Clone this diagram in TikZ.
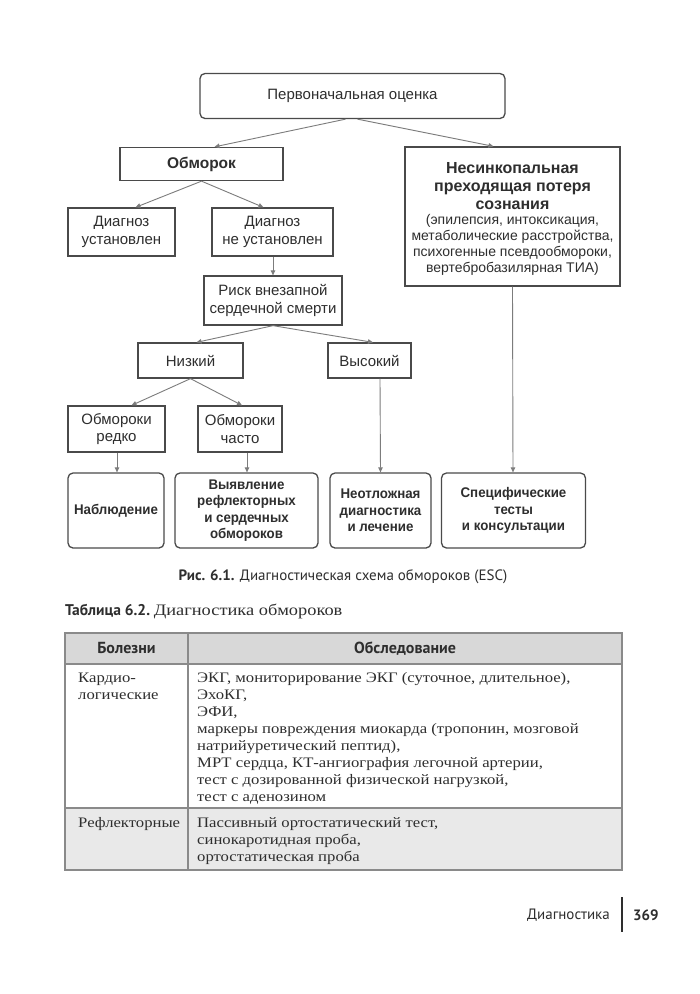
\documentclass[tikz,border=0pt]{standalone}
\usepackage{fontspec}
\setmainfont{Liberation Sans}
\newfontfamily\ptsans{PT Sans}
\newfontfamily\serifru[FakeStretch=1.15]{Liberation Serif}
\newfontfamily\condsans[FakeStretch=0.95]{Liberation Sans}
\usetikzlibrary{arrows.meta,calc}
\definecolor{boxc}{HTML}{4A4A4A}
\definecolor{linec}{HTML}{7C7C7C}
\definecolor{txtc}{HTML}{2E2E2E}
\definecolor{tblc}{HTML}{8A8A8A}
\definecolor{headc}{HTML}{D8D8D8}
\definecolor{rowc}{HTML}{E9E9E9}
\begin{document}
\begin{tikzpicture}[x=1pt,y=-1pt,
  box/.style={draw=boxc, line width=1.3pt, inner sep=0pt, align=center, text=txtc, font=\fontsize{15}{17.5}\selectfont},
  rbox/.style={box, rounded corners=5pt},
  bbox/.style={rbox, font=\condsans\bfseries\fontsize{14}{16.5}\selectfont},
  plain/.style={inner sep=0pt, align=center, text=txtc},
  arr/.style={draw=linec, line width=0.9pt, -{Triangle[length=5pt,width=4.5pt]}},
  tline/.style={draw=tblc, line width=1.1pt},
  tser/.style={inner sep=0pt, anchor=base west, text=txtc, font=\serifru\fontsize{14.5}{17}\selectfont},
]
\useasboundingbox[fill=white] (0,0) rectangle (700,994);

% ---------- diagram ----------
\node[rbox, minimum width=305pt, minimum height=45pt] (top) at (352.5,96) {Первоначальная оценка};
\node[box, minimum width=163pt, minimum height=33pt, font=\bfseries\fontsize{15.5}{18}\selectfont] (obm) at (201.5,164) {Обморок};
\node[box, minimum width=215pt, minimum height=139pt] (ns) at (512.5,216.5) {};
\node[plain, font=\bfseries\fontsize{16}{18}\selectfont] (nsA) at (512.5,186.5) {Несинкопальная\\преходящая потеря\\сознания};
\node[plain, font=\fontsize{14}{16}\selectfont] (nsB) at (512.5,245) {(эпилепсия, интоксикация,\\метаболические расстройства,\\психогенные псевдообмороки,\\вертебробазилярная ТИА)};
\node[box, minimum width=107pt, minimum height=48pt] (dy) at (121.5,232) {Диагноз\\установлен};
\node[box, minimum width=121pt, minimum height=48pt] (dn) at (272.5,232) {Диагноз\\не установлен};
\node[box, minimum width=138pt, minimum height=49pt] (risk) at (273,300.5) {Риск внезапной\\сердечной смерти};
\node[box, minimum width=105pt, minimum height=35pt] (low) at (190.5,360.5) {Низкий};
\node[box, minimum width=83pt, minimum height=35pt] (high) at (369.5,360.5) {Высокий};
\node[box, minimum width=97pt, minimum height=46pt] (rare) at (116.5,429) {Обмороки\\редко};
\node[box, minimum width=84pt, minimum height=46pt] (freq) at (240,429) {Обмороки\\часто};
\node[bbox, minimum width=96pt, minimum height=75pt] (obs) at (116,510.5) {Наблюдение};
\node[bbox, minimum width=143pt, minimum height=75pt] (rev) at (246.5,510.5) {Выявление\\рефлекторных\\и сердечных\\обмороков};
\node[bbox, minimum width=101pt, minimum height=75pt] (urg) at (380.5,510.5) {Неотложная\\диагностика\\и лечение};
\node[bbox, minimum width=144pt, minimum height=75pt] (spec) at (513.5,510.5) {Специфические\\тесты\\и консультации};

\draw[arr] ([xshift=-7pt]top.south) -- ([xshift=13pt]obm.north);
\draw[arr] ([xshift=5pt]top.south) -- ([xshift=-19pt]ns.north);
\draw[arr] (obm.south) -- ([xshift=14pt]dy.north);
\draw[arr] (obm.south) -- ([xshift=-9pt]dn.north);
\draw[arr] ([xshift=0.5pt]dn.south) -- (risk.north);
\draw[arr] (risk.south) -- ([xshift=6pt]low.north);
\draw[arr] (risk.south) -- ([xshift=3.5pt]high.north);
\draw[arr] (low.south) -- ([xshift=15pt]rare.north);
\draw[arr] (low.south) -- ([xshift=2pt]freq.north);
\draw[arr] ([xshift=0.5pt]rare.south) -- ([xshift=1pt]obs.north);
\draw[arr] ([xshift=7pt]freq.south) -- ([xshift=0.5pt]rev.north);
\draw[arr] ([xshift=10.5pt]high.south) -- (urg.north);
\draw[arr] (ns.south) -- ([xshift=-0.5pt]spec.north);

% ---------- caption ----------
\node[inner sep=0pt, text=txtc, font=\ptsans\fontsize{15}{17}\selectfont] (cap) at (343,577)
  {\textbf{Рис. 6.1.} Диагностическая схема обмороков (ESC)};

% ---------- table ----------
\node[inner sep=0pt, anchor=base west, text=txtc] (ttl) at (65,615)
  {{\ptsans\bfseries\fontsize{15.5}{17}\selectfont Таблица 6.2.} {\serifru\fontsize{16}{17}\selectfont Диагностика обмороков}};

\fill[headc] (65,633) rectangle (622,664);
\fill[rowc] (65,808) rectangle (622,870);
\draw[tline] (65,633) rectangle (622,870);
\draw[tline] (65,664) -- (622,664);
\draw[tline] (65,808) -- (622,808);
\draw[tline] (188,633) -- (188,870);

\node[inner sep=0pt, text=txtc, font=\ptsans\bfseries\fontsize{16}{18}\selectfont] (h1) at (126.5,648.5) {Болезни};
\node[inner sep=0pt, text=txtc, font=\ptsans\bfseries\fontsize{16}{18}\selectfont] (h2) at (405,648.5) {Обследование};

\node[tser] (c1a) at (78,682) {Кардио-};
\node[tser] (c1b) at (78,699) {логические};
\foreach \t [count=\i] in {{ЭКГ, мониторирование ЭКГ (суточное, длительное),},{ЭхоКГ,},{ЭФИ,},
  {маркеры повреждения миокарда (тропонин, мозговой},{натрийуретический пептид),},
  {МРТ сердца, КТ-ангиография легочной артерии,},{тест с дозированной физической нагрузкой,},{тест с аденозином}}
  \node[tser] (r1l\i) at (197,{682+17*(\i-1)}) {\t};

\node[tser] (c2a) at (78,827) {Рефлекторные};
\foreach \t [count=\i] in {{Пассивный ортостатический тест,},{синокаротидная проба,},{ортостатическая проба}}
  \node[tser] (r2l\i) at (197,{827+17*(\i-1)}) {\t};

% ---------- footer ----------
\node[inner sep=0pt, anchor=east, text=txtc, font=\ptsans\fontsize{15}{17}\selectfont] (ft) at (610,915) {Диагностика};
\coordinate (barT) at (622,897);
\coordinate (barB) at (622,932);
\draw[line width=1.8pt, draw=txtc] (barT) -- (barB);
\node[inner sep=0pt, anchor=west, text=txtc, font=\ptsans\bfseries\fontsize{15}{17}\selectfont] (pg) at (633,915) {369};
\end{tikzpicture}
\end{document}
